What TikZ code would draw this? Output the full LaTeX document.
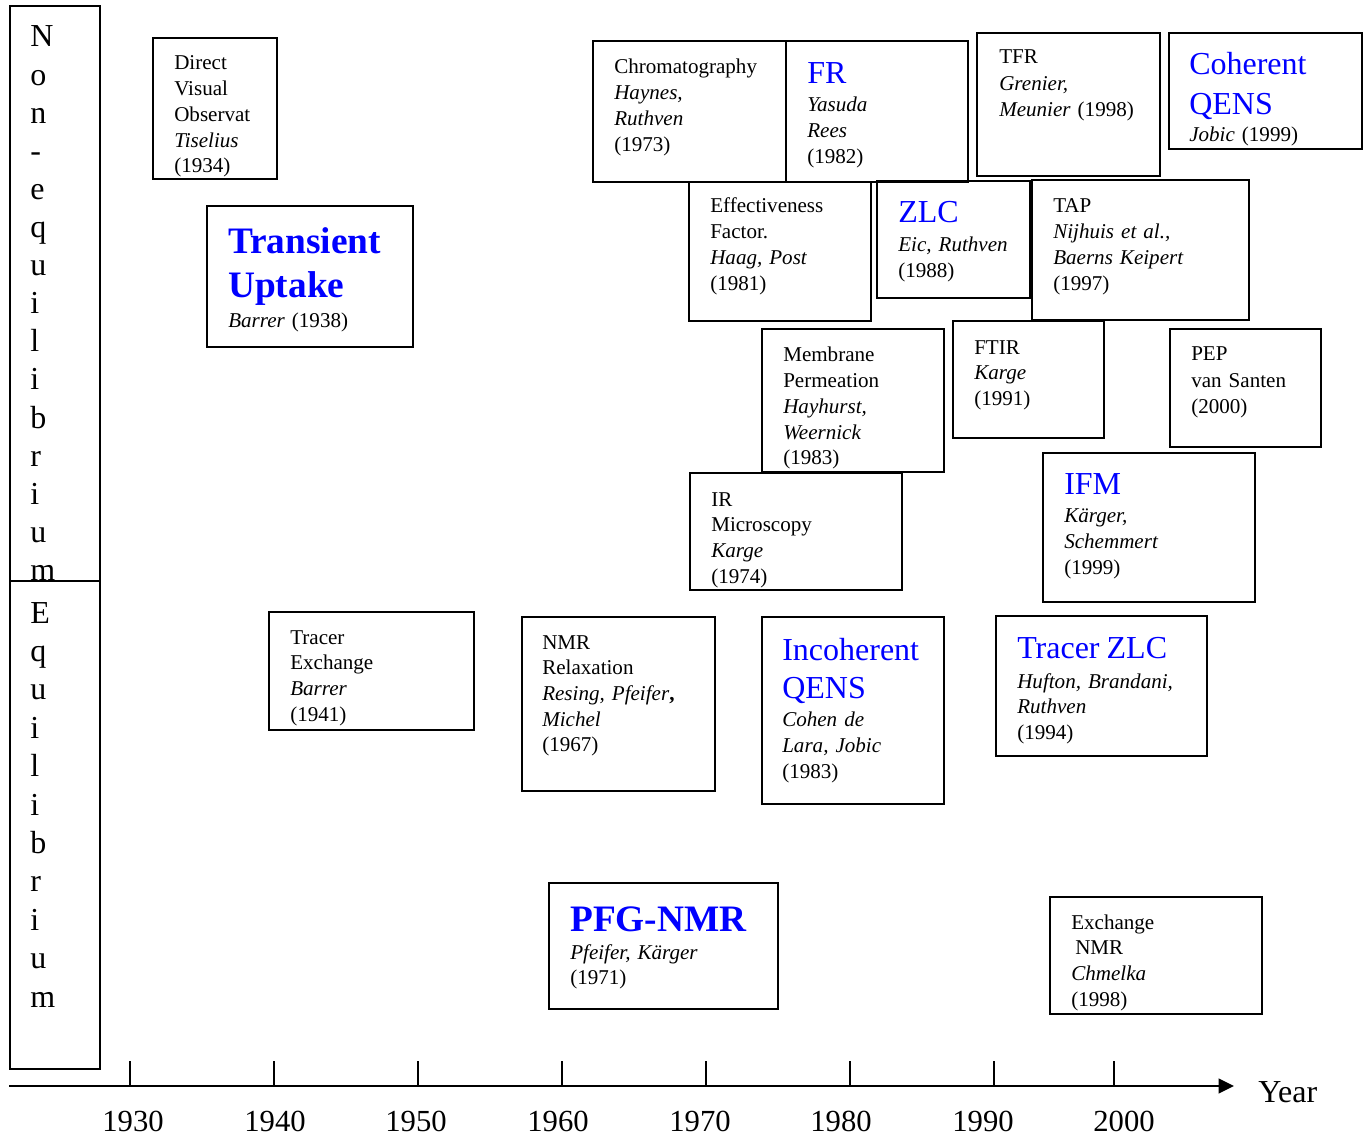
\documentclass[tikz,border=0pt]{standalone}
\usepackage{fontspec}
\setmainfont{Liberation Serif}
\usetikzlibrary{arrows.meta}
\definecolor{ttlblue}{RGB}{0,0,255}
\newcommand{\txtsize}{\fontsize{15.8}{19.3}\selectfont\lineskiplimit=-100pt\lineskip=0pt}
\newcommand{\ttl}[1]{{\color{ttlblue}\fontsize{24}{19.3}\selectfont #1}}
\newcommand{\ttlbf}[1]{{\color{ttlblue}\bfseries\fontsize{28}{19.3}\selectfont #1}}
\tikzset{
  box/.style={draw, line width=1.3pt},
  entry/.style={anchor=base west, inner sep=0pt, yshift=-0.75pt, text width=160pt, align=left, font=\txtsize},
  vletter/.style={anchor=base west, inner sep=0pt, font=\fontsize{24}{28}\selectfont},
  yearlbl/.style={anchor=base, inner sep=0pt, font=\fontsize{23}{26}\selectfont},
}
\begin{document}
\begin{tikzpicture}[x=0.75pt,y=-0.75pt]
  \useasboundingbox (0,0) rectangle (1363,1137);
  % side labels
  \draw[box] (10,6) rectangle (100,581);
  \draw[box] (10,581) rectangle (100,1069);
  \foreach \c [count=\k from 0] in {N,o,n,-,e,q,u,i,l,i,b,r,i,u,m}
    \node[vletter] (ne\k) at (30,{47+38.1*\k}) {\c};
  \foreach \c [count=\k from 0] in {E,q,u,i,l,i,b,r,i,u,m}
    \node[vletter] (eq\k) at (30,{623+38.4*\k}) {\c};

  % non-equilibrium methods
  \draw[box] (153,38) rectangle (277,179);
  \node[entry] (direct) at (174,69) {Direct\\Visual\\Observat\\\textit{Tiselius}\\(1934)};
  \draw[box] (207,206) rectangle (413,347);
  \node[entry] (transient) at (228,253) {\ttlbf{Transient}\\[13pt]\ttlbf{Uptake}\\[3.2pt]\textit{Barrer} (1938)};
  \draw[box] (593,41) rectangle (786,182);
  \node[entry] (chrom) at (614,73) {Chromatography\\\textit{Haynes,}\\\textit{Ruthven}\\(1973)};
  \draw[box] (786,41) rectangle (968,182);
  \node[entry] (fr) at (807,83) {\ttl{FR}\\[1.7pt]\textit{Yasuda}\\\textit{Rees}\\(1982)};
  \draw[box] (689,182) rectangle (871,321);
  \node[entry] (eff) at (710,212) {Effectiveness\\Factor.\\\textit{Haag, Post}\\(1981)};
  \draw[box] (877,181) rectangle (1030,298);
  \node[entry] (zlc) at (898,222) {\ttl{ZLC}\\[2.4pt]\textit{Eic, Ruthven}\\(1988)};
  \draw[box] (977,33) rectangle (1160,176);
  \node[entry] (tfr) at (999,63) {TFR\\[0.8pt]\textit{Grenier,}\\\textit{Meunier} (1998)};
  \draw[box] (1169,33) rectangle (1362,149);
  \node[entry] (coh) at (1189,74) {\ttl{Coherent}\\[10pt]\ttl{QENS}\\[1pt]\textit{Jobic} (1999)};
  \draw[box] (1032,180) rectangle (1249,320);
  \node[entry] (tap) at (1053,212) {TAP\\\textit{Nijhuis et al.,}\\\textit{Baerns Keipert}\\(1997)};
  \draw[box] (762,329) rectangle (944,472);
  \node[entry] (memb) at (783,361) {Membrane\\Permeation\\\textit{Hayhurst,}\\\textit{Weernick}\\(1983)};
  \draw[box] (690,473) rectangle (902,590);
  \node[entry] (irmic) at (711,505) {IR\\Microscopy\\\textit{Karge}\\(1974)};
  \draw[box] (953,321) rectangle (1104,438);
  \node[entry] (ftir) at (974,353) {FTIR\\\textit{Karge}\\(1991)};
  \draw[box] (1170,329) rectangle (1321,447);
  \node[entry] (pep) at (1191,360) {PEP\\[0.8pt]van Santen\\(2000)};
  \draw[box] (1043,453) rectangle (1255,602);
  \node[entry] (ifm) at (1064,493) {\ttl{IFM}\\[2.4pt]\textit{Kärger,}\\\textit{Schemmert}\\(1999)};

  % equilibrium methods
  \draw[box] (269,612) rectangle (474,730);
  \node[entry] (trex) at (290,643) {Tracer\\Exchange\\\textit{Barrer}\\(1941)};
  \draw[box] (522,617) rectangle (715,791);
  \node[entry] (nmrrel) at (542,648) {NMR\\Relaxation\\\textit{Resing, Pfeifer}\textbf{,}\\\textit{Michel}\\(1967)};
  \draw[box] (762,617) rectangle (944,804);
  \node[entry] (incoh) at (782,659) {\ttl{Incoherent}\\[9.2pt]\ttl{QENS}\\[2.4pt]\textit{Cohen de}\\\textit{Lara, Jobic}\\(1983)};
  \draw[box] (996,616) rectangle (1207,756);
  \node[entry] (trzlc) at (1017,657) {\ttl{Tracer ZLC}\\[3.2pt]\textit{Hufton, Brandani,}\\\textit{Ruthven}\\(1994)};
  \draw[box] (549,883) rectangle (778,1009);
  \node[entry] (pfg) at (570,930) {\ttlbf{PFG-NMR}\\[1.7pt]\textit{Pfeifer, Kärger}\\(1971)};
  \draw[box] (1050,897) rectangle (1262,1014);
  \node[entry] (exnmr) at (1071,928) {Exchange\\\hspace*{3pt}NMR\\\textit{Chmelka}\\(1998)};

  % time axis
  \coordinate (axstart) at (9,1086);
  \coordinate (axend) at (1234,1086);
  \draw[line width=1.5pt,-{Triangle[length=11.5pt,width=11pt]}] (axstart) -- (axend);
  \node[anchor=base west, inner sep=0pt, font=\fontsize{24}{26}\selectfont] (year) at (1258,1102) {Year};
  \foreach \yr/\tx/\lx in {1930/130/133,1940/274/275,1950/418/416,1960/562/558,
                            1970/706/700,1980/850/841,1990/994/983,2000/1114/1124} {
    \draw[line width=1.2pt] (\tx,1061) -- (\tx,1086);
    \node[yearlbl] (y\yr) at (\lx,1131) {\yr};
  }
\end{tikzpicture}
\end{document}
